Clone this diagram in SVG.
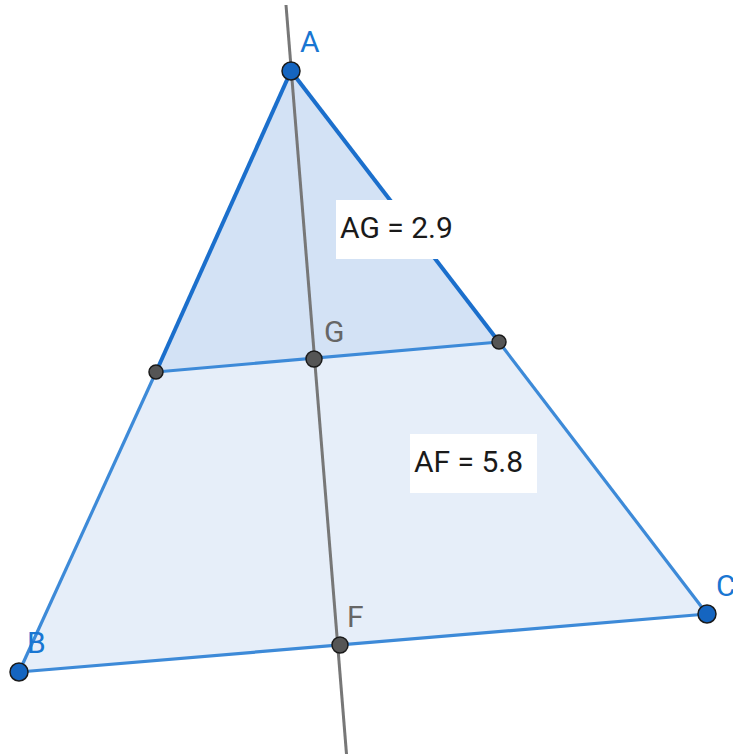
<svg xmlns="http://www.w3.org/2000/svg" width="733" height="754" viewBox="0 0 733 754">
<style>
.lbl{font-family:Roboto,"Liberation Sans",sans-serif;font-size:30px}
.blue{fill:#1976d2}
.gray{fill:#666666}
.pt{fill:#1565c0;stroke:#1a1a1a;stroke-width:1.5}
.mp{fill:#555555;stroke:#1a1a1a;stroke-width:1.5}
.box{fill:#ffffff}
.txt{font-family:Roboto,"Liberation Sans",sans-serif;font-size:30px;fill:#1a1a1a}
</style>
<rect width="733" height="754" fill="#ffffff"/>
<g id="fills">
<polygon points="291,71 19,672 707,614" fill="#e6eef9"/>
<polygon points="291,71 156,372 499,342" fill="#d3e2f5"/>
</g>
<g id="connectors">
<line x1="156" y1="372" x2="19" y2="672" stroke="#3d8ad8" stroke-width="3.2"/>
<line x1="499" y1="342" x2="707" y2="614" stroke="#3d8ad8" stroke-width="3.2"/>
<line x1="19" y1="672" x2="707" y2="614" stroke="#3d8ad8" stroke-width="3.2"/>
<line x1="291" y1="71" x2="156" y2="372" stroke="#1b6fcc" stroke-width="4"/>
<line x1="291" y1="71" x2="499" y2="342" stroke="#1b6fcc" stroke-width="4"/>
<line x1="156" y1="372" x2="499" y2="342" stroke="#3d8ad8" stroke-width="3.2"/>
<line x1="286" y1="5" x2="346.5" y2="754" stroke="#777777" stroke-width="3"/>
</g>
<g id="label-AG">
<rect class="box" x="336" y="200" width="127" height="59"/>
<text class="txt" x="340" y="238">AG = 2.9</text>
</g>
<g id="label-AF">
<rect class="box" x="410" y="434" width="127" height="59"/>
<text class="txt" x="414" y="472">AF = 5.8</text>
</g>
<g id="A"><circle class="pt" cx="291" cy="71" r="9"/><text class="lbl blue" x="300" y="52">A</text></g>
<g id="B"><circle class="pt" cx="19" cy="672" r="9"/><text class="lbl blue" x="27" y="653">B</text></g>
<g id="C"><circle class="pt" cx="707" cy="614" r="9"/><text class="lbl blue" x="716" y="596">C</text></g>
<g id="M1"><circle class="mp" cx="156" cy="372" r="7"/></g>
<g id="M2"><circle class="mp" cx="499" cy="342" r="7"/></g>
<g id="G"><circle class="mp" cx="314" cy="359" r="8"/><text class="lbl gray" x="324" y="342">G</text></g>
<g id="F"><circle class="mp" cx="340" cy="645" r="8"/><text class="lbl gray" x="347" y="627">F</text></g>
</svg>
